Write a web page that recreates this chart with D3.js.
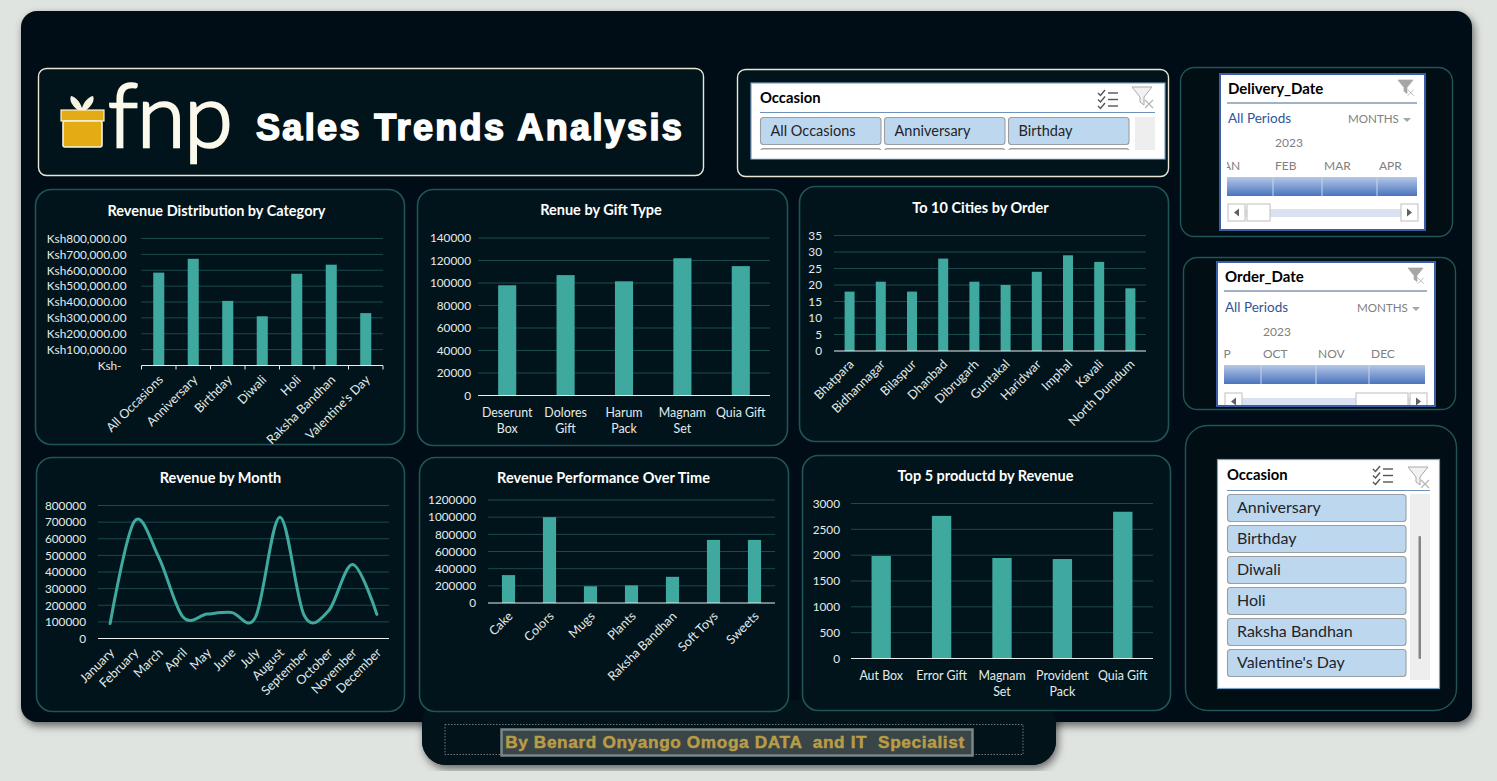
<!DOCTYPE html>
<html>
<head>
<meta charset="utf-8">
<title>Sales Trends Analysis</title>
<script src="https://cdn.jsdelivr.net/npm/d3@7/dist/d3.min.js"></script>
<style>
html,body{margin:0;padding:0;background:#e0e4e1;overflow:hidden}
svg{display:block}
text{font-family:Lato,"Noto Sans",sans-serif}
</style>
</head>
<body>
<svg id="dash" width="1497" height="781"></svg>
<script>
// Chart values
const occasions = ["All Occasions","Anniversary","Birthday","Diwali","Holi","Raksha Bandhan","Valentine's Day"];
const occasionRevenue = [585000,672000,407000,310000,578000,635000,330000];
const occasionTicks = [0,100000,200000,300000,400000,500000,600000,700000,800000];

const giftTypes = ["Deserunt Box","Dolores Gift","Harum Pack","Magnam Set","Quia Gift"];
const giftRevenue = [98000,107000,101500,122000,115000];
const giftTicks = [0,20000,40000,60000,80000,100000,120000,140000];

const cities = ["Bhatpara","Bidhannagar","Bilaspur","Dhanbad","Dibrugarh","Guntakal","Haridwar","Imphal","Kavali","North Dumdum"];
const cityOrders = [18,21,18,28,21,20,24,29,27,19];
const cityTicks = [0,5,10,15,20,25,30,35];

const months = ["January","February","March","April","May","June","July","August","September","October","November","December"];
const monthRevenue = [90000,705000,490000,130000,147000,157000,130000,730000,140000,165000,445000,145000];
const monthTicks = [0,100000,200000,300000,400000,500000,600000,700000,800000];

const productCategories = ["Cake","Colors","Mugs","Plants","Raksha Bandhan","Soft Toys","Sweets"];
const categoryRevenue = [325000,1000000,195000,205000,305000,735000,735000];
const categoryTicks = [0,200000,400000,600000,800000,1000000,1200000];

const products = ["Aut Box","Error Gift","Magnam Set","Provident Pack","Quia Gift"];
const productRevenue = [1985,2760,1945,1925,2840];
const productTicks = [0,500,1000,1500,2000,2500,3000];

const sliceListItems = ["Anniversary","Birthday","Diwali","Holi","Raksha Bandhan","Valentine's Day"];
const sliceRowItems = ["All Occasions","Anniversary","Birthday"];
const deliveryMonths = ["JAN","FEB","MAR","APR"];
const orderMonths = ["SEP","OCT","NOV","DEC"];

const TEAL = "#3fa9a0", GRID = "#1b4a4d", EDGE = "#1f5557", PANEL = "#02141b", INK = "#e3ecec";
const svg = d3.select("#dash");
const defs = svg.append("defs");

const shadow = defs.append("filter").attr("id","shade").attr("x","-5%").attr("y","-5%").attr("width","110%").attr("height","112%");
shadow.append("feDropShadow").attr("dx",2).attr("dy",4).attr("stdDeviation",4).attr("flood-color","#000").attr("flood-opacity",.55);

const band = defs.append("linearGradient").attr("id","tlBand").attr("x1",0).attr("x2",0).attr("y1",0).attr("y2",1);
band.append("stop").attr("offset","0").attr("stop-color","#b4c7e7");
band.append("stop").attr("offset","1").attr("stop-color","#4a74bd");

function box(x,y,w,h,r,fill,stroke,sw){
  return svg.append("rect").attr("x",x).attr("y",y).attr("width",w).attr("height",h).attr("rx",r)
    .attr("fill",fill).attr("stroke",stroke||"none").attr("stroke-width",sw||1);
}
function label(x,y,t,size,color,weight,parent){
  return (parent||svg).append("text").attr("x",x).attr("y",y).text(t)
    .attr("font-size",size).attr("fill",color).attr("font-weight",weight||400);
}

// Dashboard backdrop and footer tab
box(422,690,634,75,24,"#02131a").attr("filter","url(#shade)");
box(21,11,1451,711,16,"#010e13").attr("filter","url(#shade)");
box(422,700,634,65,24,"#02131a");
box(445,724.5,578,30,0,"none","#9aa6a8",.7).attr("stroke-dasharray","1.5 1.5");
box(501.5,729.5,471,26,0,"#3a4548","#7b868a",2.5);
label(735,748,"By Benard Onyango Omoga DATA  and IT  Specialist",17.2,"#b99c46",700)
  .attr("text-anchor","middle").style("font-family","'Liberation Sans',Arial,sans-serif").style("white-space","pre")
  .attr("stroke","#b99c46").attr("stroke-width",.5).attr("letter-spacing",.65);

// Header card with the logo and title
box(38.5,68.5,665,107,8,PANEL,"#e9e6d6",1.4);
box(737.5,69.5,431,107,8,PANEL,"#e9e6d6",1.4);
const logo = svg.append("g");
logo.append("path").attr("d","M78 110 C72 106 69 100 71 96 C76 97 80 102 82 108 C84 102 88 97 93 96 C95 100 92 106 86 110 Z").attr("fill","#f7f3e3");
logo.append("rect").attr("x",61).attr("y",110).attr("width",43).attr("height",11).attr("fill","#e3ac14").attr("stroke","#f7f3e3").attr("stroke-width",1.2);
logo.append("rect").attr("x",63).attr("y",121).attr("width",39).attr("height",26).attr("rx",2).attr("fill","#e3ac14").attr("stroke","#f7f3e3").attr("stroke-width",1.6);
label(108,147,"fnp",88,"#fbf9ec",300,logo).attr("letter-spacing",-1).attr("stroke","#fbf9ec").attr("stroke-width",2.6);
label(256,140,"Sales Trends Analysis",36,"#ffffff",700)
  .style("font-family","'Liberation Sans',Arial,sans-serif").attr("stroke","#fff").attr("stroke-width",1.6).attr("letter-spacing",2.35);

// One titled column or line chart inside a rounded card
function chart(o){
  box(o.card[0]-.5,o.card[1]-.5,o.card[2],o.card[3],16,PANEL,EDGE,1.6);
  label(o.titleX,o.titleY,o.title,14.5,"#ffffff",700).attr("text-anchor","middle");
  const x = d3.scaleBand().domain(o.cats).range([o.x0,o.x1]).paddingInner(o.pad).paddingOuter(o.pad/2);
  const y = d3.scaleLinear().domain([0,d3.max(o.ticks)]).range([o.y0,o.y1]);
  const g = svg.append("g");

  g.append("g").selectAll("line").data(o.ticks.filter(d=>d>0)).join("line")
    .attr("x1",o.x0).attr("x2",o.x1).attr("y1",d=>y(d)).attr("y2",d=>y(d)).attr("stroke",GRID).attr("stroke-width",1);

  const yAxis = g.append("g").attr("transform",`translate(${o.x0},0)`)
    .call(d3.axisLeft(y).tickValues(o.ticks).tickSize(0).tickPadding(o.yPad).tickFormat(o.fmt||d3.format("d")));
  yAxis.select(".domain").remove();
  yAxis.selectAll("text").attr("fill",INK).attr("font-size",11.8).style("font-family","Lato,sans-serif");
  if(o.zeroDx) yAxis.selectAll("text").filter(d=>d===0).attr("dx",o.zeroDx);

  if(o.line){
    const path = d3.line().x(d=>x(d.k)+x.bandwidth()/2).y(d=>y(d.v)).curve(d3.curveCardinal.tension(0));
    g.append("path").datum(o.cats.map((k,i)=>({k,v:o.vals[i]}))).attr("d",path)
      .attr("fill","none").attr("stroke",TEAL).attr("stroke-width",3).attr("stroke-linecap","round");
  } else {
    g.append("g").selectAll("rect").data(o.cats.map((k,i)=>({k,v:o.vals[i]}))).join("rect")
      .attr("x",d=>x(d.k)).attr("width",x.bandwidth()).attr("y",d=>y(d.v)).attr("height",d=>o.y0-y(d.v)).attr("fill",TEAL);
  }

  g.append("line").attr("x1",o.x0).attr("x2",o.x1).attr("y1",o.y0).attr("y2",o.y0).attr("stroke","#e8f0f0").attr("stroke-width",1.1);
  if(o.ticksOut){
    const step = x.step();
    g.append("g").selectAll("line").data(d3.range(o.cats.length+1)).join("line")
      .attr("x1",i=>o.x0+i*step).attr("x2",i=>o.x0+i*step).attr("y1",o.y0).attr("y2",o.y0+4).attr("stroke","#e8f0f0");
  }

  const xl = g.append("g").selectAll("text").data(o.cats).join("text")
    .attr("fill",INK).attr("font-size",o.xSize||12.6);
  if(o.rotate){
    xl.attr("text-anchor","end").text(d=>d)
      .attr("transform",d=>`translate(${x(d)+x.bandwidth()/2+(o.rdx||4)},${o.y0+(o.rdy||14)}) rotate(-45)`);
  } else {
    xl.attr("text-anchor","middle").each(function(d){
      const t = d3.select(this), cx = x(d)+x.bandwidth()/2;
      t.text(d);
      const lines = this.getComputedTextLength()>x.step()*.95 ? d.split(" ") : [d];
      t.text(null);
      lines.forEach((s,i)=>t.append("tspan").attr("x",cx).attr("y",o.y0+o.lab+i*16).text(s));
    });
  }
}

const ksh = d=> d ? "Ksh"+d3.format(",.2f")(d) : "Ksh-";

chart({card:[36,190,369,255],title:"Revenue Distribution by Category",titleX:216.5,titleY:216,cats:occasions,vals:occasionRevenue,ticks:occasionTicks,
  x0:141.5,x1:383,y0:365.5,y1:238.5,pad:.68,fmt:ksh,zeroDx:-5,yPad:15,rotate:true,ticksOut:true,rdx:5,rdy:15});
chart({card:[418,190,370,256],title:"Renue by Gift Type",titleX:601,titleY:215,cats:giftTypes,vals:giftRevenue,ticks:giftTicks,
  x0:478,x1:770,y0:395.5,y1:238,pad:.69,yPad:7,lab:21.5,xSize:12.4});
chart({card:[800,187,369,255],title:"To 10 Cities by Order",titleX:980.5,titleY:213,cats:cities,vals:cityOrders,ticks:cityTicks,
  x0:834,x1:1146,y0:351,y1:235.5,pad:.68,yPad:12,rotate:true,rdx:5,rdy:14});
chart({card:[37,458,368,254],title:"Revenue by Month",titleX:220.5,titleY:483,cats:months,vals:monthRevenue,ticks:monthTicks,
  x0:98,x1:389,y0:638.5,y1:505.5,pad:.3,yPad:12,rotate:true,line:true,rdx:5,rdy:15});
chart({card:[420,458,369,254],title:"Revenue Performance Over Time",titleX:603.5,titleY:483,cats:productCategories,vals:categoryRevenue,ticks:categoryTicks,
  x0:488,x1:775,y0:603,y1:500,pad:.68,yPad:12,rotate:true,rdx:5,rdy:14});
chart({card:[803,456,368,255],title:"Top 5 productd by Revenue",titleX:985.5,titleY:481,cats:products,vals:productRevenue,ticks:productTicks,
  x0:851,x1:1153,y0:658.5,y1:503.5,pad:.68,yPad:11,lab:21.5,xSize:12.4});

// Cards that hold the date timelines and the lower slicer
box(1180.5,67.5,272,169,14,"#010f14",EDGE,1.4);
box(1183.5,257.5,272,152,14,"#010f14",EDGE,1.4);
box(1185.5,425.5,271,285,22,"#010f14",EDGE,1.4);

function checklistIcon(x,y){
  const g = svg.append("g").attr("transform",`translate(${x},${y})`).attr("fill","none").attr("stroke","#555").attr("stroke-width",1.4);
  [0,6.5,13].forEach(dy=>{
    g.append("path").attr("d",`M0 ${3+dy} L2.5 ${5.5+dy} L7 ${dy}`);
    g.append("path").attr("d",`M10 ${3+dy} H20`);
  });
}
function filterIcon(x,y,s,fill){
  const g = svg.append("g").attr("transform",`translate(${x},${y}) scale(${s||1})`);
  g.append("path").attr("d","M0 0 H20 L12 10 V18 L8 15 V10 Z").attr("fill",fill||"#f2f2f2").attr("stroke","#a9a9a9");
  g.append("path").attr("d","M13 13 L21 21 M21 13 L13 21").attr("stroke","#b5b5b5").attr("stroke-width",1.2);
}
function slicerButton(x,y,w,h,t,size,dx){
  box(x+.5,y+.5,w,h,3,"#bdd7ee","#9a9fa3",1.1);
  if(t) label(x+dx,y+h/2+size*.36,t,size,"#1f2429");
}

// Occasion slicer laid out in three columns
box(751,83,414,76,0,"#ffffff","#7ba0c4",1.2);
label(760,103,"Occasion",14.8,"#000",700);
svg.append("line").attr("x1",760).attr("x2",1155).attr("y1",112.5).attr("y2",112.5).attr("stroke","#6d93b8");
checklistIcon(1098,90); filterIcon(1132,87);
box(1135,117,20,34,0,"#eeeeee");
sliceRowItems.forEach((t,i)=>{
  slicerButton(760+i*124,117,120.5,27,t,14.5,10.5);
  slicerButton(760+i*124,148,120.5,9,"",14,10);
});
box(752,150,412,8.5,0,"#ffffff");

// Month timeline control
function timeline(o){
  box(o.fx,o.fy,o.fw,o.fh,0,"#ffffff");
  const clip = "tl"+o.title, frameClip = "fr"+o.title;
  defs.append("clipPath").attr("id",clip).append("rect").attr("x",o.bx0).attr("y",o.fy).attr("width",o.bx1-o.bx0).attr("height",o.fh);
  defs.append("clipPath").attr("id",frameClip).append("rect").attr("x",o.fx).attr("y",o.fy).attr("width",o.fw).attr("height",o.fh);
  label(o.tx,o.fy+o.dy[0],o.title,15,"#000",700);
  svg.append("line").attr("x1",o.tx-1).attr("x2",o.fx+o.fw-8).attr("y1",o.fy+o.dy[1]).attr("y2",o.fy+o.dy[1]).attr("stroke","#44668f");
  filterIcon(o.fx+o.fw-27,o.fy+6,.75,"#a6a6a6");
  label(o.tx,o.fy+o.dy[2],"All Periods",13.5,"#2f5597");
  label(o.mx,o.fy+o.dy[2],"MONTHS",11.6,"#808080");
  svg.append("path").attr("d",`M${o.mx+55} ${o.fy+o.dy[2]-5} h8 l-4 4 Z`).attr("fill","#a6a6a6");
  label(o.yx,o.fy+o.dy[3],"2023",12,"#808080");
  const g = svg.append("g").attr("clip-path",`url(#${clip})`);
  o.months.forEach((m,i)=>label(o.labx[i],o.fy+o.dy[4],m,12,"#808080",400,g));
  box(o.bx0,o.fy+o.dy[5],o.bx1-o.bx0,19,0,"url(#tlBand)");
  o.seps.forEach(s=>svg.append("line").attr("x1",s).attr("x2",s).attr("y1",o.fy+o.dy[5]).attr("y2",o.fy+o.dy[5]+19).attr("stroke","#c6d5ee"));
  const sy = o.fy+o.dy[6];
  const sb = svg.append("g").attr("clip-path",`url(#${frameClip})`);
  sb.append("rect").attr("x",o.sb[0]).attr("y",sy+5).attr("width",o.sb[3]-o.sb[0]).attr("height",8).attr("fill","#d9e1f2");
  [[o.sb[0],17],[o.sb[1],o.sb[2]-o.sb[1]],[o.sb[3],17]].forEach(([bx,bw])=>
    sb.append("rect").attr("x",bx).attr("y",sy).attr("width",bw).attr("height",17).attr("fill","#fff").attr("stroke","#c8c8c8").attr("stroke-width",1.2));
  sb.append("path").attr("d",`M${o.sb[0]+11} ${sy+4.5} l-5 4 l5 4 Z`).attr("fill","#606060");
  sb.append("path").attr("d",`M${o.sb[3]+6} ${sy+4.5} l5 4 l-5 4 Z`).attr("fill","#606060");
  box(o.fx,o.fy,o.fw,o.fh,0,"none","#3a5fa8",2);
}
timeline({title:"Delivery_Date",fx:1220,fy:74,fw:205,fh:156,tx:1228,mx:1348,yx:1275,dy:[20,29,49,73,96,103,130],
  months:deliveryMonths,labx:[1218,1275,1324,1379],bx0:1227,bx1:1417,seps:[1273,1322,1377],sb:[1228,1247,1270,1401]});
timeline({title:"Order_Date",fx:1217,fy:262,fw:218,fh:144,tx:1225,mx:1357,yx:1263,dy:[20,29,50,74,96,103,131],
  months:orderMonths,labx:[1210,1263,1318,1371],bx0:1224,bx1:1425,seps:[1261,1316,1369],sb:[1225,1356,1408,1410]});

// Occasion slicer laid out as a single list
box(1217.5,459.5,222,229,0,"#ffffff","#7ba0c4",1.2);
label(1227,480,"Occasion",14.8,"#000",700);
svg.append("line").attr("x1",1227).attr("x2",1430).attr("y1",490.5).attr("y2",490.5).attr("stroke","#6d93b8");
checklistIcon(1373,466); filterIcon(1408,467);
sliceListItems.forEach((t,i)=>slicerButton(1227,494+i*31,178.5,27,t,16,10));
box(1410,494,20,186,0,"#eeeeee");
box(1418.5,536,2.5,123,1,"#858585");
</script>
</body>
</html>
